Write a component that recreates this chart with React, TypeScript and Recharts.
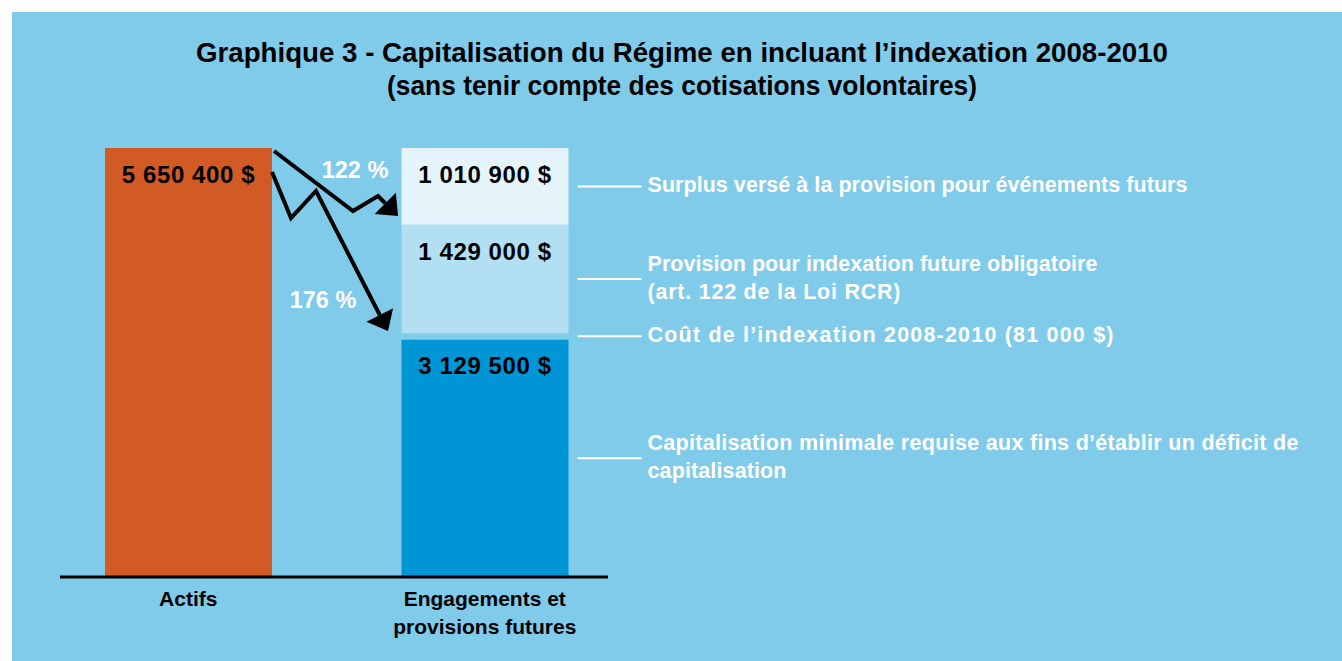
import { BarChart, Bar, XAxis, YAxis, ReferenceLine } from 'recharts'

const FONT = '"Liberation Sans", Arial, sans-serif'

const titleLines = [
  'Graphique 3 - Capitalisation du Régime en incluant l’indexation 2008-2010',
  '(sans tenir compte des cotisations volontaires)',
]
const titleWidths = [972, 590]

const categories = ['Actifs', 'Engagements']
const categoryLines = [['Actifs'], ['Engagements et', 'provisions futures']]

const assets = 5650400

const segmentKeys = ['minimum', 'indexation', 'provision', 'surplus']
const segmentValues = [3129500, 81000, 1429000, 1010900]
const segmentShowValue = [true, false, true, true]
const segmentNotes = [
  ['Capitalisation minimale requise aux fins d’établir un déficit de', 'capitalisation'],
  ['Coût de l’indexation 2008-2010 (81 000 $)'],
  ['Provision pour indexation future obligatoire', '(art. 122 de la Loi RCR)'],
  ['Surplus versé à la provision pour événements futurs'],
]
// widths of the note lines as measured on the reference
const segmentNoteWidths = [[651, 139], [466], [450, 253], [540]]
const segmentColors = ['#0096d6', '#80cbea', '#b2dff2', '#e5f4fb']

const ratioLabels = ['122 %', '176 %']

const data = [
  { name: categories[0], actifs: assets },
  {
    name: categories[1],
    ...Object.fromEntries(segmentKeys.map((k, i) => [k, segmentValues[i]])),
  },
]

const fmt = (n: number) => n.toString().replace(/\B(?=(\d{3})+(?!\d))/g, ' ') + ' $'

function Arrow({ pts }: { pts: number[][] }) {
  const n = pts.length
  const [tx, ty] = pts[n - 1]
  const [px, py] = pts[n - 2]
  const len = Math.hypot(tx - px, ty - py)
  const ux = (tx - px) / len
  const uy = (ty - py) / len
  const bx = tx - ux * 18
  const by = ty - uy * 18
  const w = 15
  const line = [...pts.slice(0, n - 1), [bx, by]].map((p) => p.join(',')).join(' ')
  return (
    <g>
      <polyline points={line} fill="none" stroke="#000" strokeWidth={4} strokeLinejoin="miter" />
      <polygon
        points={`${tx},${ty} ${bx - uy * w},${by + ux * w} ${bx + uy * w},${by - ux * w}`}
        fill="#000"
      />
    </g>
  )
}

const AssetLabel = (p: any) => {
  if (!p || !p.height || p.height <= 0) return null
  const rx = p.x + p.width
  const ty = p.y
  const rel = (pts: number[][]) => pts.map(([dx, dy]) => [rx + dx, ty + dy])
  return (
    <g fontFamily={FONT} fontWeight="bold">
      <text x={p.x + p.width / 2} y={ty + 35} textAnchor="middle" fontSize={24} letterSpacing={0.6} fill="#000">
        {fmt(assets)}
      </text>
      <Arrow pts={rel([[2, 3], [81, 63], [106, 48], [126, 68]])} />
      <Arrow pts={rel([[0, 24], [19, 70], [44, 43], [116, 183]])} />
      <text x={rx + 83} y={ty + 30} textAnchor="middle" fontSize={23.5} fill="#fff">
        {ratioLabels[0]}
      </text>
      <text x={rx + 51} y={ty + 160} textAnchor="middle" fontSize={23.5} fill="#fff">
        {ratioLabels[1]}
      </text>
    </g>
  )
}

const segmentLabel = (i: number) => (p: any) => {
  if (!p || !p.height || p.height <= 0) return null
  const cy = p.y + p.height / 2
  const rx = p.x + p.width
  const notes = segmentNotes[i]
  return (
    <g fontFamily={FONT} fontWeight="bold">
      {segmentShowValue[i] && (
        <text
          x={p.x + p.width / 2}
          y={p.y + 35}
          textAnchor="middle"
          fontSize={24}
          letterSpacing={0.6}
          fill="#000"
        >
          {fmt(segmentValues[i])}
        </text>
      )}
      <line x1={rx + 9} x2={rx + 73} y1={cy} y2={cy} stroke="#fff" strokeWidth={2} />
      {notes.map((t, j) => (
        <text
          key={j}
          x={rx + 79}
          y={cy + 6 + (j - (notes.length - 1) / 2) * 28}
          fontSize={21.5}
          textLength={segmentNoteWidths[i][j]}
          lengthAdjust="spacing"
          fill="#fff"
        >
          {t}
        </text>
      ))}
    </g>
  )
}

const AxisTick = (p: any) => {
  const idx = categories.indexOf(p.payload?.value)
  const lines = categoryLines[idx] || []
  return (
    <g>
      {lines.map((t, j) => (
        <text
          key={j}
          x={p.x}
          y={p.y + 21 + j * 28}
          textAnchor="middle"
          fontFamily={FONT}
          fontWeight="bold"
          fontSize={21}
          fill="#000"
        >
          {t}
        </text>
      ))}
    </g>
  )
}

export default function App() {
  return (
    <div style={{ position: 'absolute', left: 0, top: 0, width: 1342, height: 661, background: '#fff', overflow: 'hidden' }}>
      <div style={{ position: 'absolute', left: 12, top: 12, right: 0, bottom: 0, background: '#80cbea' }} />
      <svg width={1342} height={130} style={{ position: 'absolute', left: 0, top: 0 }}>
        {titleLines.map((t, i) => (
          <text
            key={i}
            x={682}
            y={62 + i * 33}
            textAnchor="middle"
            fontFamily={FONT}
            fontWeight="bold"
            fontSize={27}
            textLength={titleWidths[i]}
            lengthAdjust="spacingAndGlyphs"
            fill="#000"
          >
            {t}
          </text>
        ))}
      </svg>
      <div style={{ position: 'absolute', left: 0, top: 0 }}>
        <BarChart width={1342} height={661} data={data} margin={{ top: 148, right: 709, bottom: 24, left: 40 }}>
          <XAxis dataKey="name" height={60} axisLine={false} tickLine={false} tick={AxisTick} interval={0} />
          <YAxis hide domain={[0, assets]} />
          <Bar dataKey="actifs" stackId="s" fill="#d25a24" barSize={167} isAnimationActive={false} label={AssetLabel} />
          {segmentKeys.map((k, i) => (
            <Bar
              key={k}
              dataKey={k}
              stackId="s"
              fill={segmentColors[i]}
              barSize={167}
              isAnimationActive={false}
              label={segmentLabel(i)}
            />
          ))}
          <ReferenceLine
            y={0}
            stroke="#000"
            strokeWidth={3}
            shape={(p: any) => <line x1={p.x1 + 20} x2={p.x2 - 25} y1={p.y1} y2={p.y2} stroke="#000" strokeWidth={3} />}
          />
        </BarChart>
      </div>
    </div>
  )
}
